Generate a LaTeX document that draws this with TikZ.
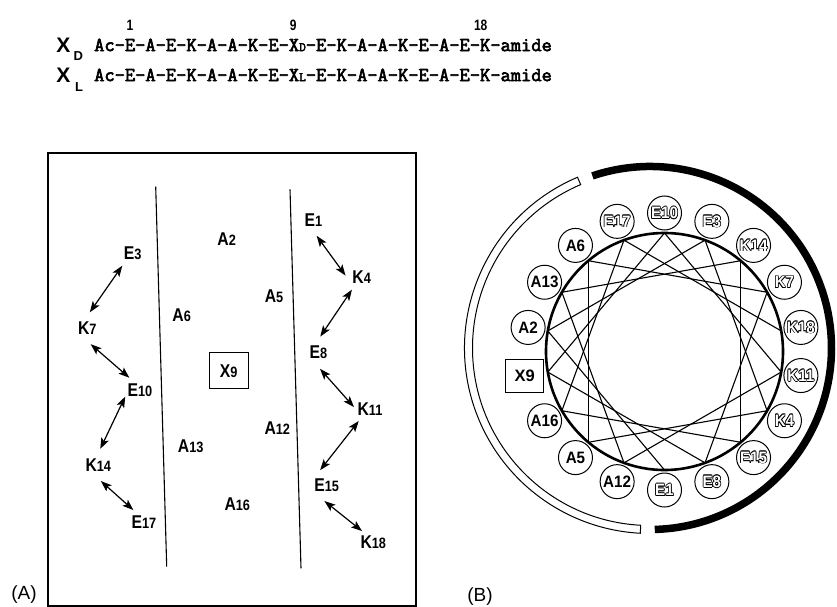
\documentclass[tikz,border=0pt]{standalone}
\usepackage{fontspec}
\setmainfont{Liberation Sans}
\newfontfamily\monof[AutoFakeBold=3.2]{Latin Modern Mono}
\usetikzlibrary{arrows.meta}
\newsavebox\olbox
\newcommand\oc[2]{\rlap{\hspace*{#1}\raisebox{#2}{\usebox\olbox}}}
\newcommand\olt[1]{\sbox\olbox{#1}\oc{-0.8pt}{0pt}\oc{0.8pt}{0pt}\oc{0pt}{0.8pt}\oc{0pt}{-0.8pt}\oc{-0.57pt}{0.57pt}\oc{0.57pt}{0.57pt}\oc{-0.57pt}{-0.57pt}\oc{0.57pt}{-0.57pt}\textcolor{white}{#1}}
\newcommand\lab[2]{\scalebox{0.85}[1]{{\fontsize{18.5}{18.5}\selectfont #1}{\fontsize{15}{15}\selectfont #2}}}
\tikzset{
  lbl/.style={circle, inner sep=1pt, minimum size=32pt, font=\bfseries},
  dbl/.style={{Stealth[length=11pt,width=8pt,inset=2.5pt]}-{Stealth[length=11pt,width=8pt,inset=2.5pt]}, line width=1.2pt},
  res/.style={circle, draw, line width=1pt, minimum size=34pt, inner sep=0pt, fill=white, font=\bfseries\fontsize{16.5}{16.5}\selectfont},
  ch/.style={line width=1.1pt},
  seq/.style={anchor=west, inner sep=0pt, font=\monof\bfseries\fontsize{19.9}{19.9}\selectfont},
  num/.style={inner sep=0pt, font=\bfseries\fontsize{15}{15}\selectfont},
  bigx/.style={inner sep=0pt, font=\bfseries\fontsize{21}{21}\selectfont},
  subl/.style={inner sep=0pt, font=\bfseries\fontsize{13}{13}\selectfont},
  pan/.style={inner sep=0pt, font=\fontsize{19}{19}\selectfont}
}
\begin{document}
\begin{tikzpicture}[x=1pt,y=1pt]
\fill[white] (0,0) rectangle (837,-607);
\useasboundingbox (0,0) rectangle (837,-607);
% ---------- header ----------
\node[num] (n1) at (130,-25) {\scalebox{0.8}[1]{1}};
\node[num] (n9) at (293.3,-25) {\scalebox{0.8}[1]{9}};
\node[num] (n18) at (480.7,-25) {\scalebox{0.8}[1]{18}};
\node[bigx] (xd) at (63.3,-45) {X};
\node[subl] (xdD) at (78.3,-56) {D};
\node[bigx] (xl) at (63.3,-75) {X};
\node[subl] (xlL) at (79,-86.7) {L};
\node[seq] (s1) at (94,-45) {Ac-E-A-E-K-A-A-K-E-X{\fontsize{13}{13}\selectfont D}-E-K-A-A-K-E-A-E-K-amide};
\node[seq] (s2) at (94,-75) {Ac-E-A-E-K-A-A-K-E-X{\fontsize{13}{13}\selectfont L}-E-K-A-A-K-E-A-E-K-amide};
% ---------- panel A ----------
\draw[line width=1.2pt] (48,-153) rectangle (416,-606);
\draw[line width=1.1pt] (155.7,-186.7) -- (166.7,-566.7);
\draw[line width=1.1pt] (290,-189.3) -- (301,-568.3);
\node[pan] (pa) at (24,-595) {(A)};
\node[lbl] (E3) at (132.7,-253.3) {\lab{E}{3}};
\node[lbl] (A2) at (226.7,-239) {\lab{A}{2}};
\node[lbl] (E1) at (313.3,-220) {\lab{E}{1}};
\node[lbl] (K4) at (361.7,-276.7) {\lab{K}{4}};
\node[lbl] (A5) at (274,-296) {\lab{A}{5}};
\node[lbl] (A6) at (181.7,-315) {\lab{A}{6}};
\node[lbl] (K7) at (87.3,-328.3) {\lab{K}{7}};
\node[lbl] (E8) at (318.3,-352.7) {\lab{E}{8}};
\node[draw, line width=1.1pt, minimum width=39pt, minimum height=36pt, inner sep=0pt, font=\bfseries] (X9a) at (228.7,-370.8) {\lab{X}{9}};
\node[lbl] (E10) at (140,-390) {\lab{E}{10}};
\node[lbl] (K11) at (370,-409.3) {\lab{K}{11}};
\node[lbl] (A12) at (277.3,-428.3) {\lab{A}{12}};
\node[lbl] (A13) at (190.7,-446.7) {\lab{A}{13}};
\node[lbl] (K14) at (98.3,-465) {\lab{K}{14}};
\node[lbl] (E15) at (326.7,-485) {\lab{E}{15}};
\node[lbl] (A16) at (237.3,-504.3) {\lab{A}{16}};
\node[lbl] (E17) at (144,-522.3) {\lab{E}{17}};
\node[lbl] (K18) at (373.3,-542.7) {\lab{K}{18}};
\draw[dbl] (E3.230.6) -- (K7.81.6);
\draw[dbl] (K7.282.8) -- (E10.131.6);
\draw[dbl] (E10.204.2) -- (K14.83.5);
\draw[dbl] (K14.279.1) -- (E17.131.9);
\draw[dbl] (E1.282.8) -- (K4.176);
\draw[dbl] (K4.233.1) -- (E8.83.3);
\draw[dbl] (E8.276.9) -- (K11.172.4);
\draw[dbl] (K11.226.3) -- (E15.114.1);
\draw[dbl] (E15.262.7) -- (K18.134.2);
% ---------- panel B ----------
\node[pan] (pb) at (480,-596.7) {(B)};
\begin{scope}[shift={(650,-348)}]
  \draw[line width=1pt, fill=white] (113:185.5) arc[start angle=113, end angle=267, radius=185.5]
     -- (267:177.5) arc[start angle=267, end angle=113, radius=177.5] -- cycle;
  \draw[line width=7.5pt] (108.5:181.5) arc[start angle=108.5, end angle=-88.5, radius=181.5];
\end{scope}
\begin{scope}[shift={(664.5,-351.5)}]
  \draw[line width=2.6pt] (0,0) circle[radius=118.5];
  \foreach \n in {1,...,18}{
    \pgfmathsetmacro\ang{-90-(\n-1)*100}
    \coordinate (p\n) at (\ang:118.5);
  }
  \foreach \n in {1,...,17}{
    \pgfmathtruncatemacro\m{\n+1}
    \draw[ch] (p\n) -- (p\m);
  }
  \foreach \n/\t in {1/{\olt{E1}},2/A2,3/{\olt{E3}},4/{\olt{K4}},5/A5,6/A6,7/{\olt{K7}},8/{\olt{E8}},
                     10/{\olt{E10}},11/{\olt{K11}},12/A12,13/A13,14/{\olt{K14}},15/{\olt{E15}},16/A16,17/{\olt{E17}},18/{\olt{K18}}}{
    \pgfmathsetmacro\ang{-90-(\n-1)*100}
    \node[res] (r\n) at (\ang:138.5) {\scalebox{0.92}[1]{\t}};
  }
  \node[draw, line width=1pt, fill=white, minimum width=38pt, minimum height=33pt, inner sep=0pt,
        font=\bfseries\fontsize{16.5}{16.5}\selectfont] (r9) at (-170:142) {X9};
\end{scope}
\end{tikzpicture}
\end{document}
